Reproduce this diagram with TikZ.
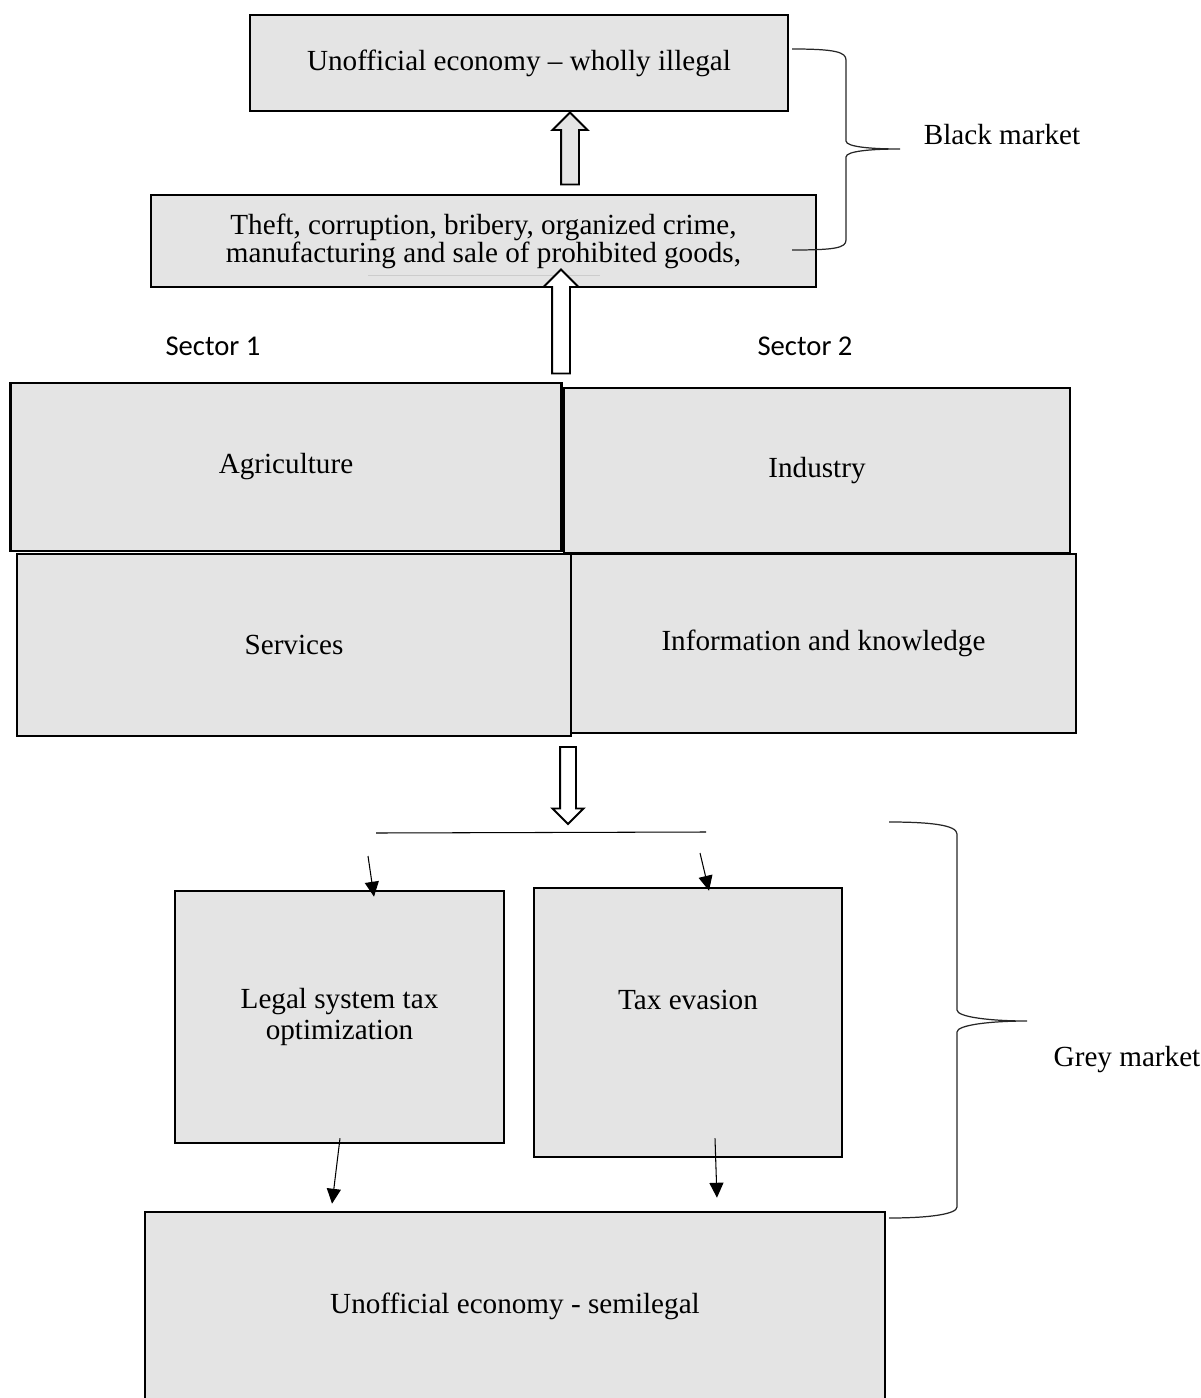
\documentclass[tikz,border=0pt]{standalone}
\usepackage{fontspec}
\setmainfont{Liberation Serif}
\newfontfamily\sectorfont{Carlito}
\usetikzlibrary{shapes,arrows.meta,positioning}
\definecolor{boxgrey}{RGB}{228,228,228}
\tikzset{
  box/.style={draw, line width=1.5pt, fill=boxgrey, inner sep=0pt, align=center},
  blockarrow/.style={single arrow, draw, line width=1.1pt, inner sep=0.16cm,
    single arrow head extend=0.17cm, minimum height=#1},
  flow/.style={line width=0.6pt, ->},
  brace/.style={line width=0.7pt, black!85}
}
\begin{document}
\begin{tikzpicture}[x=0.02cm,y=-0.02cm,font=\fontsize{16.6}{19}\selectfont,
  >={Triangle[length=8.5pt,width=8pt]}]
\useasboundingbox (0,0) rectangle (1200,1398);

% black market
\node[box,minimum width=10.76cm,minimum height=1.92cm] (illegal) at (519,63) {Unofficial economy -- wholly illegal};
\node[box,minimum width=13.3cm,minimum height=1.84cm,font=\fontsize{16.6}{16}\selectfont] (theft) at (483.5,241)
  {Theft, corruption, bribery, organized crime,\\ manufacturing and sale of prohibited goods,};
\draw[gray!40, line width=0.5pt] (368,275) -- (600,275);

% sectors
\node[font=\sectorfont\fontsize{16.3}{19}\selectfont] (sec1) at (213,346) {Sector 1};
\node[font=\sectorfont\fontsize{16.3}{19}\selectfont] (sec2) at (805,346) {Sector 2};
\node[box,minimum width=11.03cm,minimum height=3.36cm] (agri) at (286,467) {Agriculture};
\node[box,minimum width=10.12cm,minimum height=3.3cm] (industry) at (817,470.5) {Industry};
\node[box,minimum width=11.08cm,minimum height=3.64cm] (services) at (294,645) {Services};
\node[box,minimum width=10.1cm,minimum height=3.58cm] (info) at (823.5,643.5) {Information and knowledge};

% grey market
\node[box,minimum width=6.58cm,minimum height=5.04cm,font=\fontsize{16.6}{17.6}\selectfont] (legal) at (339.5,1017)
  {Legal system tax\\ optimization};
\node[box,minimum width=6.16cm,minimum height=5.38cm] (evasion) at (688,1022.5) {};
\node (evasiontext) at (688,1000) {Tax evasion};
\node[box,minimum width=14.8cm,minimum height=3.76cm] (semilegal) at (515,1306) {Unofficial economy - semilegal};

% block arrows
\node[blockarrow=1.44cm, fill=boxgrey, shape border rotate=90] (up1) at (570,153) {};
\node[blockarrow=2.08cm, fill=white, shape border rotate=90] (up2) at (561,326) {};
\node[blockarrow=1.54cm, fill=white, shape border rotate=270, inner sep=0.14cm,
  single arrow head extend=0.15cm] (down1) at (568,781.5) {};

% split and thin arrows
\coordinate (split west) at (376,833);
\coordinate (split east) at (706,832);
\draw[line width=0.6pt] (split west) -- (split east);
\coordinate (a1) at (368,856);
\coordinate (a2) at (700,853);
\draw[flow] (a1) -- ([xshift=0.69cm,yshift=-0.14cm]legal.north);
\draw[flow] (a2) -- ([xshift=0.42cm,yshift=-0.08cm]evasion.north);
\draw[flow] ([xshift=0.01cm,yshift=0.12cm]legal.south) -- ([xshift=-3.66cm,yshift=0.14cm]semilegal.north);
\draw[flow] ([xshift=0.54cm,yshift=0.4cm]evasion.south) -- ([xshift=4.04cm,yshift=0.26cm]semilegal.north);

% braces
\draw[brace] (792,49) .. controls (835,49) and (846,52) .. (846,60) -- (846,141)
  .. controls (846,147) and (872,149) .. (900,149)
  .. controls (872,149) and (846,151) .. (846,157) -- (846,240)
  .. controls (846,248) and (835,250) .. (792,250);
\node (black) at (1002,135) {Black market};
\draw[brace] (889,822) .. controls (930,822) and (957,825) .. (957,834) -- (957,1010)
  .. controls (957,1017) and (990,1021) .. (1027,1021)
  .. controls (990,1021) and (957,1025) .. (957,1032) -- (957,1207)
  .. controls (957,1214) and (930,1218) .. (889,1218);
\node (grey) at (1127,1060) {Grey market};
\end{tikzpicture}
\end{document}
